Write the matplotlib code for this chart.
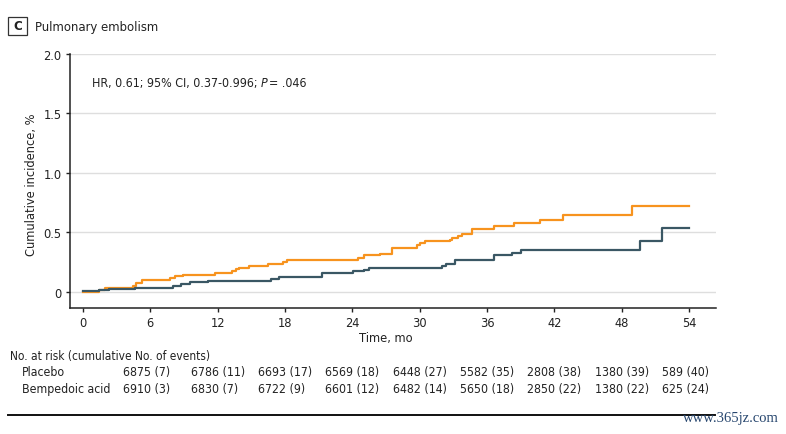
import numpy as np
import matplotlib.pyplot as plt
import matplotlib.transforms as mtransforms
from matplotlib.patches import Rectangle
from matplotlib.lines import Line2D

plt.rcParams['font.family'] = ['DejaVu Sans']
plt.rcParams['font.stretch'] = 'condensed'

# step curves (months, cumulative incidence %)
placebo_t = [0, 1.4, 2.0, 4.5, 4.7, 5.3, 7.75, 8.2, 8.9, 11.8, 13.3, 13.6, 13.9, 14.8,
             16.5, 17.85, 18.2, 24.5, 25.0, 26.5, 27.5, 29.8, 30.0, 30.5, 32.7, 32.9,
             33.4, 33.8, 34.7, 36.6, 38.4, 40.7, 42.8, 48.9, 54.0]
placebo_v = [0, 0.017, 0.031, 0.05, 0.073, 0.10, 0.12, 0.13, 0.145, 0.16, 0.174, 0.193,
             0.204, 0.218, 0.232, 0.25, 0.266, 0.283, 0.31, 0.32, 0.37, 0.39, 0.41,
             0.426, 0.437, 0.45, 0.468, 0.487, 0.53, 0.55, 0.574, 0.605, 0.645, 0.718, 0.718]
bemp_t = [0, 1.4, 2.3, 4.6, 8.0, 8.7, 9.5, 11.1, 16.75, 17.5, 21.3, 24.1, 25.0, 25.5,
          32.0, 32.3, 33.1, 36.6, 38.2, 39.0, 49.6, 51.6, 54.0]
bemp_v = [0.006, 0.011, 0.025, 0.036, 0.05, 0.067, 0.08, 0.092, 0.109, 0.123, 0.157,
          0.174, 0.187, 0.2, 0.22, 0.235, 0.263, 0.305, 0.325, 0.347, 0.43, 0.54, 0.54]

risk_times = [6, 12, 18, 24, 30, 36, 42, 48, 54]
placebo_risk = ['6875 (7)', '6786 (11)', '6693 (17)', '6569 (18)', '6448 (27)',
                '5582 (35)', '2808 (38)', '1380 (39)', '589 (40)']
bemp_risk = ['6910 (3)', '6830 (7)', '6722 (9)', '6601 (12)', '6482 (14)',
             '5650 (18)', '2850 (22)', '1380 (22)', '625 (24)']

orange = '#F7931E'
slate = '#3A5764'
ink = '#222222'

fig = plt.figure(figsize=(7.86, 4.35), dpi=100)
ax = fig.add_axes([0.089, 0.290, 0.822, 0.584])

ax.step(placebo_t, placebo_v, where='post', color=orange, lw=1.6, zorder=3)
ax.step(bemp_t, bemp_v, where='post', color=slate, lw=1.6, zorder=3)

ax.set_xlim(-1.16, 56.4)
ax.set_ylim(-0.135, 2.0)
ax.set_xticks(range(0, 55, 6))
ax.set_yticks([0, 0.5, 1.0, 1.5, 2.0])
ax.set_yticklabels(['0', '0.5', '1.0', '1.5', '2.0'])
for y in [0, 0.5, 1.0, 1.5, 2.0]:
    ax.axhline(y, color='#dedede', lw=1.0, zorder=1)

for s in ['top', 'right']:
    ax.spines[s].set_visible(False)
for s in ['left', 'bottom']:
    ax.spines[s].set_color(ink)
    ax.spines[s].set_linewidth(1.1)
ax.tick_params(axis='both', labelsize=9.2, colors=ink, length=3, width=1.0, pad=3)

ax.set_ylabel('Cumulative incidence, %', fontsize=9.2, color=ink)
ax.yaxis.set_label_coords(-0.050, 0.49)

trans = mtransforms.blended_transform_factory(ax.transData, fig.transFigure)
ax.text(27, 1 - 339 / 435, 'Time, mo', fontsize=9.2, ha='center', va='center', color=ink,
        transform=trans, clip_on=False)

hr_y = 1.76
ax.text(0.8, hr_y, 'HR, 0.61; 95% CI, 0.37-0.996; ', fontsize=8.9,
        ha='left', va='center', color=ink)
hr = ax.texts[-1]
fig.canvas.draw()
bb = hr.get_window_extent()
x_end = ax.transData.inverted().transform((bb.x1, bb.y0))[0]
ax.text(x_end, hr_y, 'P', fontsize=8.9, style='italic', ha='left', va='center', color=ink)
pp = ax.texts[-1]
fig.canvas.draw()
bb = pp.get_window_extent()
x_end = ax.transData.inverted().transform((bb.x1, bb.y0))[0]
ax.text(x_end + 0.15, hr_y, '= .046', fontsize=8.9, ha='left', va='center', color=ink)

# panel title
fig.patches.append(Rectangle((8 / 786, 1 - 36 / 435), 19 / 786, 18 / 435,
                             transform=fig.transFigure, fill=False, ec='#333333', lw=0.9))
fig.text(17.5 / 786, 1 - 27 / 435, 'C', fontsize=9.5, fontweight='bold', ha='center',
         va='center', color=ink)
fig.text(35 / 786, 1 - 27 / 435, 'Pulmonary embolism', fontsize=9.4, ha='left',
         va='center', color=ink)

# risk table
fig.text(10 / 786, 1 - 357 / 435, 'No. at risk (cumulative No. of events)', fontsize=8.6,
         ha='left', va='center', color=ink)
fig.text(22 / 786, 1 - 373 / 435, 'Placebo', fontsize=8.8, ha='left', va='center',
         color=ink)
fig.text(22 / 786, 1 - 390 / 435, 'Bempedoic acid', fontsize=8.8, ha='left', va='center',
         color=ink)
for t, p, b in zip(risk_times, placebo_risk, bemp_risk):
    ax.text(t - 2.4, 1 - 373 / 435, p, fontsize=8.8, ha='left', va='center',
            color=ink, transform=trans, clip_on=False)
    ax.text(t - 2.4, 1 - 390 / 435, b, fontsize=8.8, ha='left', va='center',
            color=ink, transform=trans, clip_on=False)

fig.lines.append(Line2D([8 / 786, 715 / 786], [1 - 416 / 435, 1 - 416 / 435],
                        transform=fig.transFigure, color='#111111', lw=1.4))
fig.text(779 / 786, 1 - 419 / 435, 'www.365jz.com', fontsize=10.5, ha='right', va='center',
         color='#27466e', family=['Liberation Serif', 'DejaVu Serif'], stretch='normal')

fig.savefig('out.png', dpi=100)
